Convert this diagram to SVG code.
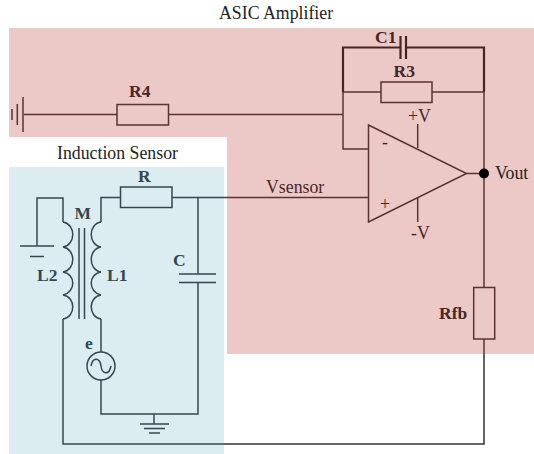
<svg xmlns="http://www.w3.org/2000/svg" width="534" height="454" viewBox="0 0 534 454">
<style>
text{font-family:"Liberation Serif","Times New Roman",serif;font-size:17.800px}
.a{fill:#4a2525}.b{fill:#33484e}.k{fill:#222}
.lb{font-weight:bold;font-size:17.500px}
.w{fill:none;stroke:#5a3232;stroke-width:1.500}
.wb{fill:none;stroke:#33494f;stroke-width:1.500}
.wk{fill:none;stroke:#333;stroke-width:1.500}
.th{stroke-width:2.200;stroke:#4a2222}
</style>
<path id="amp-bg" d="M9 28H534V354H227V137H9Z" fill="#ecc9c7"/>
<rect id="sensor-bg" x="9" y="167" width="215" height="287" fill="#dcedf2"/>
<g id="connectors">
<path class="w" d="M24 114.500H117M168.500 114.500H343M343 92V149H368.500"/>
<path class="w th" d="M343 92V47.500H400.500M406 47.500H484V92"/>
<path class="w" d="M343 92H381M432 92H484V287.500M466.500 173.500H484M484 339V354M417.700 124V148M417.700 198V222M224 197.500H368.500"/>
<path class="wk" d="M484 354V444H224"/>
<path class="wb" d="M224 444H63V319M37 246V198H63V222M101 352V319M101 222V197.500H120.500M172 197.500H224M198 197.500V274M198 283V414H101V380M154 414V424"/>
</g>
<g id="GND1"><path class="w" d="M23 97V132M17.300 104V125M12 109V120"/></g>
<g id="R4"><rect class="w" x="117" y="104.500" width="51.500" height="20.500"/><text class="a lb" x="129" y="96.500">R4</text></g>
<g id="C1"><path class="w th" d="M400.500 36V59M406 36V59"/><text class="a lb" x="375" y="43">C1</text></g>
<g id="R3"><rect class="w" x="381" y="82" width="51" height="20.500"/><text class="a lb" x="393.500" y="77">R3</text></g>
<g id="opamp"><path class="w" d="M368.500 125L466.500 173.500L368.500 222Z"/><text class="a lb" x="382" y="148">-</text><text class="a" x="380" y="210">+</text><text class="a" x="408" y="122">+V</text><text class="a" x="411" y="239">-V</text></g>
<g id="Vout"><circle cx="484" cy="173.500" r="5" fill="#000"/><text class="k" x="495" y="178.500">Vout</text></g>
<g id="Vsensor"><text class="a" x="266" y="192.700">Vsensor</text></g>
<g id="Rfb"><rect class="w" x="473.700" y="287.500" width="21" height="51.500"/><text class="a lb" x="439" y="318.500">Rfb</text></g>
<g id="R"><rect class="wb" x="120.500" y="187" width="51.500" height="20.500"/><text class="b lb" x="138" y="181.700">R</text></g>
<g id="L2"><path class="wb" d="M63 222C76 224 76 245 63 247C76 249 76 270 63 272C76 274 76 292 63 295C76 297 76 317 63 319"/><text class="b lb" x="37" y="281">L2</text></g>
<g id="L1"><path class="wb" d="M101 222C88 224 88 245 101 247C88 249 88 270 101 272C88 274 88 292 101 295C88 297 88 317 101 319"/><text class="b lb" x="107" y="281">L1</text></g>
<g id="M"><path class="wb" d="M79 228V319M84.500 228V319"/><text class="b lb" x="74.500" y="219">M</text></g>
<g id="C"><path class="wb" d="M179 274H216" stroke-width="2"/><path class="wb" d="M179 282.500H216" stroke-width="2"/><text class="b lb" x="173" y="266">C</text></g>
<g id="e"><circle class="wb" cx="101" cy="366" r="14"/><path class="wb" d="M91 366C93 356 100 358 101 366C102 374 109 376 111 366"/><text class="b lb" x="85" y="348.700">e</text></g>
<g id="GND2"><path class="wb" d="M20 246H54M30 256.500H44"/></g>
<g id="GND3"><path class="wb" d="M140 424H169M144 428.500H165M149 433H160"/></g>
<text class="k" x="219" y="19">ASIC Amplifier</text>
<text class="k" x="57" y="159">Induction Sensor</text>
</svg>
